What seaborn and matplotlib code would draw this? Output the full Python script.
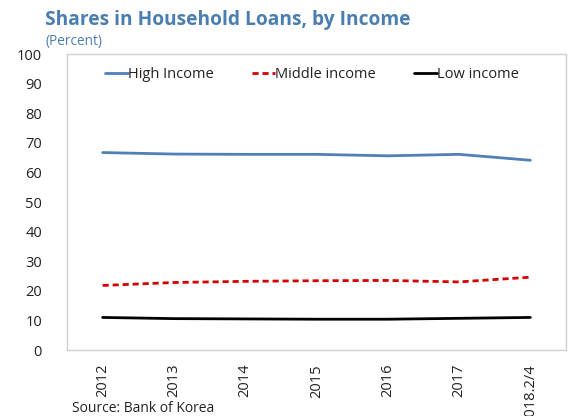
import matplotlib
matplotlib.use("Agg")
import matplotlib.pyplot as plt
import seaborn as sns
import pandas as pd

periods = ["2012", "2013", "2014", "2015", "2016", "2017", "2018.2/4"]
high_income = [66.7, 66.2, 66.1, 66.1, 65.6, 66.1, 64.1]
middle_income = [21.8, 22.8, 23.2, 23.4, 23.5, 23.0, 24.6]
low_income = [11.0, 10.6, 10.5, 10.4, 10.4, 10.7, 11.0]
series_names = ["High Income", "Middle income", "Low income"]

sns.set_theme(style="white")
plt.rcParams["font.family"] = ["Open Sans", "DejaVu Sans"]

df = pd.DataFrame({
    "period": periods * 3,
    "pos": list(range(len(periods))) * 3,
    "value": high_income + middle_income + low_income,
    "series": [series_names[0]] * 7 + [series_names[1]] * 7 + [series_names[2]] * 7,
})

fig = plt.figure(figsize=(5.8, 4.16), dpi=100)
ax = fig.add_axes([67 / 580, 1 - 350 / 416, 499 / 580, 296 / 416])

palette = {"High Income": "#4f81b4", "Middle income": "#d40000", "Low income": "#000000"}
sns.lineplot(data=df, x="pos", y="value", hue="series", palette=palette,
             ax=ax, linewidth=2, legend=False)
ax.lines[1].set_linestyle((0, (2.2, 1.4)))

for line, name in zip(ax.lines, series_names):
    line.set_label(name)
leg = ax.legend(loc="upper center", ncol=3, frameon=False, fontsize=10.5,
                handlelength=1.6, handletextpad=0.0, columnspacing=2.6,
                bbox_to_anchor=(0.491, 1.0))
for t in leg.get_texts():
    t.set_color("#222222")

ax.set_xlim(-0.5, len(periods) - 0.5)
ax.set_ylim(0, 100)
ax.set_yticks(range(0, 101, 10))
ax.set_xticks(range(len(periods)))
ax.set_xticklabels(periods, rotation=90, fontsize=10.5, color="#222222")
ax.set_xticks([i + 0.5 for i in range(len(periods) - 1)], minor=True)
ax.tick_params(axis="x", which="major", length=0, pad=10)
ax.tick_params(axis="x", which="minor", direction="in", length=4, color="#c8c8c8")
ax.tick_params(axis="y", direction="in", length=4, color="#c8c8c8",
               labelsize=10.5, labelcolor="#222222", pad=18)
for s in ax.spines.values():
    s.set_color("#d0d0d0")
    s.set_linewidth(1)
ax.set_xlabel("")
ax.set_ylabel("")

fig.text(45 / 580, 1 - 20 / 416, "Shares in Household Loans, by Income",
         fontsize=13.8, fontweight="bold", color="#4a7eb0", va="center")
fig.text(45 / 580, 1 - 42 / 416, "(Percent)", fontsize=9.8, color="#4a7eb0", va="center")
fig.text(72 / 580, 1 - 408 / 416, "Source: Bank of Korea", fontsize=10,
         color="#222222", va="center")

fig.savefig("out.png", dpi=100)
